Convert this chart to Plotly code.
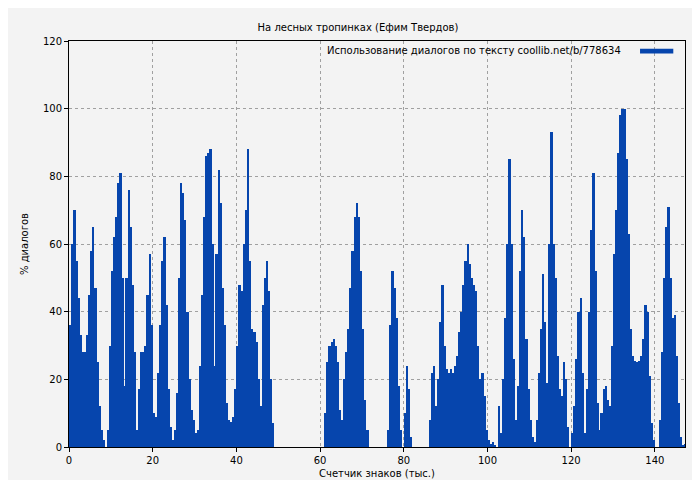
import plotly.graph_objects as go

STEP = 0.5
# segments: (start x in thousands of chars, dialogue % values at 0.5 steps); gaps are 0
seg1 = [36,60,70,55,44,33,28,28,33,45,58,65,47,25,12,5,2,0,5,30,
        52,62,68,78,81,50,18,50,76,65,48,28,5,17,28,28,30,45,57,36,
        10,9,22,36,55,62,42,17,6,2,5,16,50,78,75,67,40,20,11,8,
        4,5,24,45,68,86,87,88,60,24,57,82,72,47,36,13,8,7.5,9,17,
        30,48,46,60,70,88,55,35,34,31,20,12,42,50,55,46,20,7]
seg2 = [10,25,30,31,32,30,25,11,8,20,28,35,47,58,68,72,68,52,35,14,5]
seg3 = [5,36,52,47,38,18,5,0,10,24,17,3]
seg4 = [8,22,24,12,20,37,48,30,23,22,23,22,24,27,34,40,48,55,60,54,
        50,48,46,30,20,22,15,5,2,1,1.5,0.5,0,12,
        4,20,38,60,85,60,26,8,18,52,70,62,32,17,8,3,1.5,8,22,35,
        51,37,19,60,93,60,50,27,17,15,25,20,6,0,4,12,26,40,44,22,
        4,17,40,64,81,52,13,5,10,17,18,14,12,30,57,70,87,98,100,100,
        85,63,35,27,25.5,25,25.5,27,32,42,40,21,7,2,0,0,8,28,50,65,
        71,50,38,39,27,13,3,0.5,1]
segments = [(0.0, seg1), (61.0, seg2), (76.0, seg3), (86.0, seg4)]

n = int(147 / STEP) + 1
xs = [i * STEP for i in range(n)]
ys = [0.0] * n
for start, vals in segments:
    i0 = int(round(start / STEP))
    for j, v in enumerate(vals):
        ys[i0 + j] = v

FONT = "DejaVu Sans"
fig = go.Figure(go.Bar(x=xs, y=ys, width=STEP * 1.15, offset=0,
                       marker=dict(color="#0645ad", line=dict(width=0)),
                       name="Использование диалогов по тексту coollib.net/b/778634"))
axis_common = dict(showline=True, linecolor="black", linewidth=1, mirror=True, automargin=False,
                   gridcolor="#a0a0a0", griddash="dot", ticks="outside", ticklen=4,
                   tickcolor="black", zeroline=False, tickfont=dict(size=10, color="black"))
fig.update_xaxes(range=[0, 147.2], tick0=0, dtick=20,
                 title=dict(text="Счетчик знаков (тыс.)", font=dict(size=10), standoff=4), **axis_common)
fig.update_yaxes(range=[0, 120], dtick=20,
                 title=dict(text="% диалогов", font=dict(size=10), standoff=12), **axis_common)
fig.add_annotation(text="Использование диалогов по тексту coollib.net/b/778634",
                   xref="paper", yref="paper", x=0.9, y=0.976, xanchor="right", yanchor="middle",
                   showarrow=False, font=dict(size=10, color="black"))
fig.add_shape(type="rect", xref="paper", yref="paper", x0=0.927, x1=0.981, y0=0.969, y1=0.981,
              fillcolor="#0645ad", line=dict(width=0))
fig.update_layout(
    width=700, height=480, showlegend=False, bargap=0,
    title=dict(text="На лесных тропинках (Ефим Твердов)", x=0.5, y=0.967, xanchor="center",
               font=dict(size=10, color="black")),
    font=dict(family=FONT, size=10, color="black"),
    paper_bgcolor="#f3f3f3", plot_bgcolor="#f3f3f3",
    margin=dict(l=61, r=23, t=33, b=41),
)
fig.write_html("out.html")
